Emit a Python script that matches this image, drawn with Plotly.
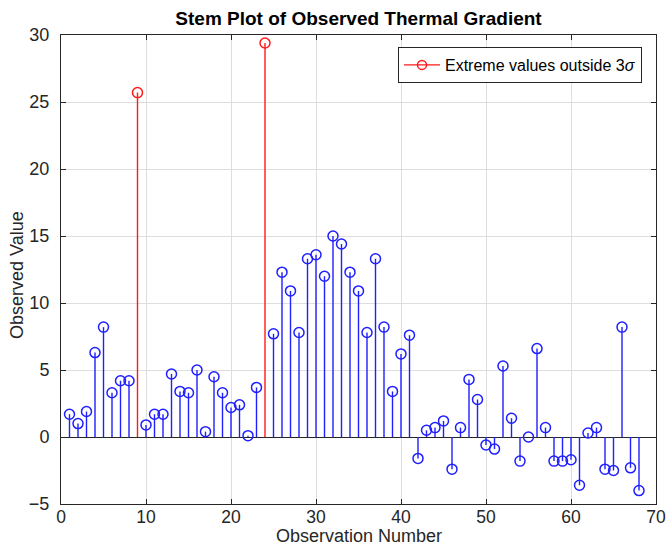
import plotly.graph_objects as go

obs = list(range(1, 69))
values = [1.7, 1.0, 1.9, 6.3, 8.2, 3.3, 4.2, 4.2, 25.7, 0.9,
          1.7, 1.7, 4.7, 3.4, 3.3, 5.0, 0.4, 4.5, 3.3, 2.2,
          2.4, 0.1, 3.7, 29.4, 7.7, 12.3, 10.9, 7.8, 13.3, 13.6,
          12.0, 15.0, 14.4, 12.3, 10.9, 7.8, 13.3, 8.2, 3.4, 6.2,
          7.6, -1.6, 0.5, 0.7, 1.2, -2.4, 0.7, 4.3, 2.8, -0.6,
          -0.9, 5.3, 1.4, -1.8, 0.0, 6.6, 0.7, -1.8, -1.8, -1.7,
          -3.6, 0.3, 0.7, -2.4, -2.5, 8.2, -2.3, -4.0]
extreme_obs = [9, 24]

title_text = "Stem Plot of Observed Thermal Gradient"
x_title = "Observation Number"
y_title = "Observed Value"
legend_text = "Extreme values outside 3<i>σ</i>"
x_ticks = [0, 10, 20, 30, 40, 50, 60, 70]
y_ticks = [-5, 0, 5, 10, 15, 20, 25, 30]

normal = [(o, v) for o, v in zip(obs, values) if o not in extreme_obs]
extreme = [(o, v) for o, v in zip(obs, values) if o in extreme_obs]


def stems(pairs):
    xs, ys = [], []
    for o, v in pairs:
        xs += [o, o, None]
        ys += [0, v, None]
    return xs, ys


FONT = "Liberation Sans, Arial, sans-serif"
TXT = "#262626"
BLUE = "#1f1fff"
RED = "#ff1a1a"
W, H = 666, 547
L, R, T, B = 61, 10, 35, 43
fig = go.Figure()

sx, sy = stems(normal)
fig.add_trace(go.Scatter(x=sx, y=sy, mode="lines", line=dict(color=BLUE, width=1.4),
                         showlegend=False, hoverinfo="skip"))
fig.add_trace(go.Scatter(x=[p[0] for p in normal], y=[p[1] for p in normal], mode="markers",
                         marker=dict(symbol="circle-open", size=10, color=BLUE, line=dict(width=1.5)),
                         showlegend=False))

ex, ey = stems(extreme)
fig.add_trace(go.Scatter(x=ex, y=ey, mode="lines", line=dict(color=RED, width=1.4),
                         showlegend=False, hoverinfo="skip"))
fig.add_trace(go.Scatter(x=[p[0] for p in extreme], y=[p[1] for p in extreme], mode="markers",
                         marker=dict(symbol="circle-open", size=10, color=RED, line=dict(width=1.5)),
                         showlegend=False))
# legend entry
fig.add_trace(go.Scatter(x=[None], y=[None], mode="lines+markers", name=legend_text,
                         line=dict(color=RED, width=1.4),
                         marker=dict(symbol="circle-open", size=9, color=RED, line=dict(width=1.5))))

axis_common = dict(
    showline=True, linecolor=TXT, linewidth=1, mirror="ticks",
    ticks="inside", ticklen=5, tickcolor=TXT,
    showgrid=True, gridcolor="#dedede", gridwidth=1,
)

pw = W - L - R
ph = H - T - B

fig.update_layout(
    width=W, height=H,
    margin=dict(l=L, r=R, t=T, b=B),
    paper_bgcolor="white", plot_bgcolor="white",
    title=dict(text="<b>" + title_text + "</b>", x=(L + W - R) / 2 / W, xanchor="center",
               y=1 - 18 / H, yanchor="middle", yref="container",
               font=dict(family=FONT, size=19, color="black")),
    xaxis=dict(range=[0, 70], tickvals=x_ticks, zeroline=False, automargin=False,
               ticklabelstandoff=-3, tickfont=dict(family=FONT, size=17.5, color=TXT),
               **axis_common),
    yaxis=dict(range=[-5, 30], tickvals=y_ticks, zeroline=True, zerolinecolor=TXT,
               zerolinewidth=1.2, ticklabelstandoff=7, automargin=False,
               tickfont=dict(family=FONT, size=18, color=TXT),
               **axis_common),
    legend=dict(x=(642 - L) / pw, y=(H - B - 47) / ph, xanchor="right", yanchor="top",
                bordercolor=TXT, borderwidth=1, bgcolor="white",
                font=dict(family=FONT, size=16, color="black"),
                itemwidth=36, tracegroupgap=0),
    annotations=[
        dict(text=x_title, xref="paper", yref="paper", x=0.5,
             y=-(535.5 - (H - B)) / ph, xanchor="center", yanchor="middle", showarrow=False,
             font=dict(family=FONT, size=18, color=TXT)),
        dict(text=y_title, xref="paper", yref="paper", x=(17 - L) / pw,
             y=((H - B) - 275) / ph, xanchor="center", yanchor="middle", showarrow=False,
             textangle=-90, font=dict(family=FONT, size=18, color=TXT)),
    ],
)

fig.write_html("out.html")
